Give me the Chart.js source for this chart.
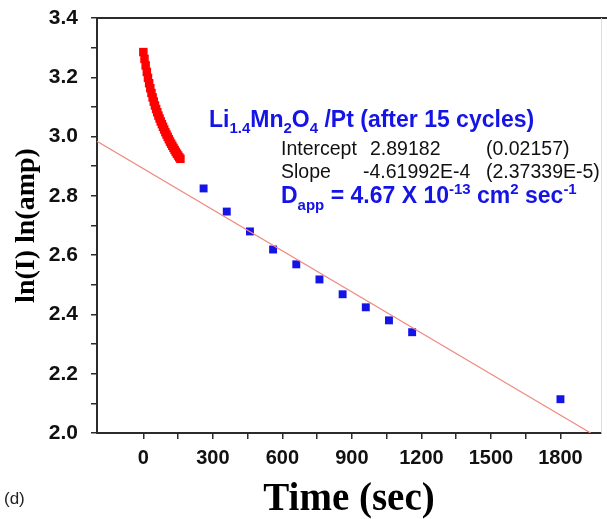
<!DOCTYPE html>
<html>
<head>
<meta charset="utf-8">
<script src="https://cdn.jsdelivr.net/npm/chart.js@4.4.1/dist/chart.umd.min.js"></script>
<style>
  html, body { margin: 0; padding: 0; background: #fff; overflow: hidden; }
</style>
</head>
<body>
<canvas id="chart" width="607" height="519"></canvas>
<script>
// early current decay (red squares)
const redTime = [0, 5, 10, 15, 20, 25, 30, 35, 40, 45, 50, 55, 60, 65, 70, 75, 80,
                 85, 90, 95, 100, 105, 110, 115, 120, 125, 130, 135, 140, 145, 150, 155, 160]
const redLnI = [3.285, 3.262, 3.240, 3.218, 3.198, 3.180, 3.163, 3.147, 3.132, 3.118, 3.105,
                3.093, 3.082, 3.071, 3.061, 3.051, 3.042, 3.033, 3.024, 3.015, 3.007, 2.999,
                2.991, 2.983, 2.976, 2.969, 2.962, 2.955, 2.948, 2.942, 2.936, 2.930, 2.925]

// later points used for the fit (blue squares)
const blueTime = [260, 360, 460, 560, 660, 760, 860, 960, 1060, 1160, 1800]
const blueLnI = [2.825, 2.747, 2.680, 2.619, 2.569, 2.518, 2.468, 2.424, 2.380, 2.340, 2.114]

// linear fit
const fitIntercept = 2.89182
const fitSlope = -4.61992e-4
const fitTime = [-200, 1930.4]

const xMin = -200, xMax = 1975
const yMin = 2.0, yMax = 3.4

const AXIS = '#2b2b2b'
const BLUE = '#1414e6'
const RED = '#ff0000'

function drawRuns(ctx, x, y, runs, color){
    ctx.fillStyle = color
    ctx.textBaseline = 'alphabetic'
    ctx.textAlign = 'left'
    runs.forEach(r => {
        ctx.font = r.font
        ctx.fillText(r.t, x + (r.dx || 0), y + (r.dy || 0))
        x += ctx.measureText(r.t).width + (r.dx || 0)
    })
}

const annotations = {
    id: 'annotations',
    afterDraw(chart){
        const ctx = chart.ctx
        const area = chart.chartArea
        ctx.save()
        // top border and faint right border
        ctx.strokeStyle = AXIS
        ctx.lineWidth = 2
        ctx.beginPath()
        ctx.moveTo(area.left - 1, area.top)
        ctx.lineTo(chart.width, area.top)
        ctx.stroke()
        ctx.strokeStyle = '#dcdcdc'
        ctx.lineWidth = 1
        ctx.beginPath()
        ctx.moveTo(area.right + 0.5, area.top)
        ctx.lineTo(area.right + 0.5, area.bottom)
        ctx.stroke()

        const big = 'bold 23px Arial, "Liberation Sans", sans-serif'
        const sub = 'bold 15px Arial, "Liberation Sans", sans-serif'
        const reg = '19.5px Arial, "Liberation Sans", sans-serif'

        drawRuns(ctx, 209, 127, [
            {t: 'Li', font: big},
            {t: '1.4', font: sub, dy: 6},
            {t: 'Mn', font: big},
            {t: '2', font: sub, dy: 6},
            {t: 'O', font: big},
            {t: '4', font: sub, dy: 6},
            {t: ' /Pt (after 15 cycles)', font: big}
        ], BLUE)

        ctx.fillStyle = '#111'
        ctx.font = reg
        ctx.fillText('Intercept', 281, 155)
        ctx.fillText('2.89182', 370, 155)
        ctx.fillText('(0.02157)', 486, 155)
        ctx.fillText('Slope', 281, 178)
        ctx.fillText('-4.61992E-4', 363, 178)
        ctx.fillText('(2.37339E-5)', 486, 178)

        drawRuns(ctx, 281, 203, [
            {t: 'D', font: big},
            {t: 'app', font: sub, dy: 7},
            {t: ' = 4.67 X 10', font: big},
            {t: '-13', font: sub, dy: -9},
            {t: ' cm', font: big},
            {t: '2', font: sub, dy: -9},
            {t: ' sec', font: big},
            {t: '-1', font: sub, dy: -9}
        ], BLUE)

        ctx.fillStyle = '#222'
        ctx.font = '17px Arial, "Liberation Sans", sans-serif'
        ctx.fillText('(d)', 4, 504)
        ctx.restore()
    }
}

const tickFontX = {family: 'Arial, "Liberation Sans", sans-serif', size: 20, weight: 'bold'}
const tickFontY = {family: 'Arial, "Liberation Sans", sans-serif', size: 21, weight: 'bold'}

new Chart(document.getElementById('chart'), {
    type: 'scatter',
    data: {
        datasets: [
            {
                label: 'fit',
                type: 'line',
                data: fitTime.map(t => ({x: t, y: fitIntercept + fitSlope * t})),
                borderColor: '#f08a80',
                borderWidth: 1.2,
                pointRadius: 0,
                fill: false
            },
            {
                label: 'early',
                data: redTime.map((t, i) => ({x: t, y: redLnI[i]})),
                pointStyle: 'rect',
                pointRadius: 6,
                backgroundColor: RED,
                borderColor: RED,
                borderWidth: 0
            },
            {
                label: 'late',
                data: blueTime.map((t, i) => ({x: t, y: blueLnI[i]})),
                pointStyle: 'rect',
                pointRadius: 5.6,
                backgroundColor: BLUE,
                borderColor: BLUE,
                borderWidth: 0
            }
        ]
    },
    options: {
        responsive: false,
        animation: false,
        layout: {padding: {top: 18, right: 3, left: 0, bottom: 0}},
        plugins: {legend: {display: false}, tooltip: {enabled: false}},
        scales: {
            x: {
                type: 'linear',
                min: xMin,
                max: xMax,
                afterFit: s => { s.height = 86; s.paddingLeft = 0; s.paddingRight = 0 },
                afterBuildTicks: s => {
                    s.ticks = s.ticks.filter(t => Math.round(t.value) % 150 === 0)
                },
                ticks: {
                    stepSize: 150,
                    autoSkip: false,
                    maxRotation: 0,
                    padding: 7,
                    color: '#111',
                    font: tickFontX,
                    callback: v => (Math.round(v) % 300 === 0 && v >= 0) ? String(Math.round(v)) : ''
                },
                grid: {drawOnChartArea: false, drawTicks: true, tickLength: 6, color: AXIS, lineWidth: 1.5},
                border: {display: true, color: AXIS, width: 2},
                title: {
                    display: true,
                    text: 'Time (sec)',
                    color: '#000',
                    font: {family: '"Liberation Serif", "Times New Roman", serif', size: 39, weight: 'bold'},
                    padding: {top: 0, bottom: -4}
                }
            },
            y: {
                type: 'linear',
                min: yMin,
                max: yMax,
                afterFit: s => { s.width = 97; s.paddingTop = 0; s.paddingBottom = 0 },
                ticks: {
                    stepSize: 0.1,
                    autoSkip: false,
                    padding: 13,
                    color: '#111',
                    font: tickFontY,
                    callback: v => (Math.round(v * 10) % 2 === 0) ? v.toFixed(1) : ''
                },
                grid: {drawOnChartArea: false, drawTicks: true, tickLength: 6, color: AXIS, lineWidth: 1.5},
                border: {display: true, color: AXIS, width: 2},
                title: {
                    display: true,
                    text: 'ln(I) ln(amp)',
                    color: '#000',
                    font: {family: '"Liberation Serif", "Times New Roman", serif', size: 28, weight: 'bold'},
                    padding: {top: 10, bottom: 0}
                }
            }
        }
    },
    plugins: [annotations]
})
</script>
</body>
</html>
